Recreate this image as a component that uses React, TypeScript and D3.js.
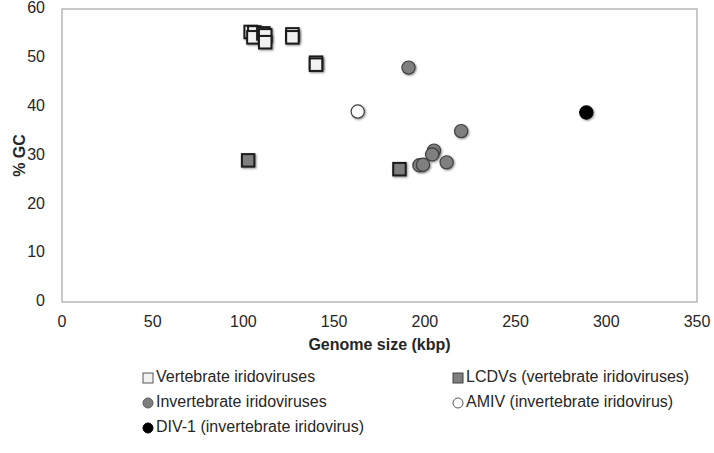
import { useRef, useEffect } from 'react';
import * as d3 from 'd3';

// [genome size kbp, %GC]
const vertebrate: [number, number][] = [
  [104, 55.3], [106, 55.2], [105.5, 54.2], [111, 55], [112, 54.6],
  [112, 53.2], [127, 54.8], [127, 54.2], [140, 49], [140, 48.6],
];
const lcdv: [number, number][] = [[102.6, 29], [186, 27.2]];
const invertebrate: [number, number][] = [
  [191, 48], [220, 35], [205, 31], [204, 30.2], [197, 28], [199, 28.1], [212, 28.6],
];
const amiv: [number, number][] = [[163, 39]];
const div1: [number, number][] = [[289, 38.8]];

const xTicks = [0, 50, 100, 150, 200, 250, 300, 350];
const yTicks = [0, 10, 20, 30, 40, 50, 60];

const legendItems = [
  { label: 'Vertebrate iridoviruses', shape: 'square', fill: '#f2f2f2' },
  { label: 'LCDVs (vertebrate iridoviruses)', shape: 'square', fill: '#7f7f7f' },
  { label: 'Invertebrate iridoviruses', shape: 'circle', fill: '#7f7f7f' },
  { label: 'AMIV (invertebrate iridovirus)', shape: 'circle', fill: '#ffffff' },
  { label: 'DIV-1 (invertebrate iridovirus)', shape: 'circle', fill: '#000000' },
];

const FONT = 'Liberation Sans, Arial, sans-serif';

export default function App() {
  const svgRef = useRef<SVGSVGElement>(null);

  useEffect(() => {
    if (!svgRef.current) return;
    const svg = d3.select(svgRef.current);
    svg.selectAll('*').remove();

    const margin = { top: 9, right: 17, bottom: 151, left: 62 };
    const W = 714;
    const H = 453;
    const width = W - margin.left - margin.right;
    const height = H - margin.top - margin.bottom;

    svg.attr('width', W).attr('height', H);

    const defs = svg.append('defs');
    const filter = defs.append('filter').attr('id', 'shadow').attr('x', '-50%').attr('y', '-50%').attr('width', '200%').attr('height', '200%');
    filter.append('feDropShadow').attr('dx', 1).attr('dy', 1).attr('stdDeviation', 0.8).attr('flood-color', '#000').attr('flood-opacity', 0.45);

    const g = svg.append('g').attr('transform', `translate(${margin.left},${margin.top})`);

    const x = d3.scaleLinear().domain([0, 350]).range([0, width]);
    const y = d3.scaleLinear().domain([0, 60]).range([height, 0]);

    // Plot frame
    g.append('rect')
      .attr('x', 0)
      .attr('y', 0)
      .attr('width', width)
      .attr('height', height)
      .attr('fill', 'none')
      .attr('stroke', '#a6a6a6')
      .attr('stroke-width', 1.2);

    // Tick labels
    g.selectAll('.xt')
      .data(xTicks)
      .join('text')
      .attr('x', (d) => x(d))
      .attr('y', height + 21)
      .attr('dominant-baseline', 'middle')
      .attr('text-anchor', 'middle')
      .attr('font-family', FONT)
      .attr('font-size', '16px')
      .attr('fill', '#262626')
      .text((d) => d);

    g.selectAll('.yt')
      .data(yTicks)
      .join('text')
      .attr('x', -17)
      .attr('y', (d) => y(d))
      .attr('dominant-baseline', 'middle')
      .attr('text-anchor', 'end')
      .attr('font-family', FONT)
      .attr('font-size', '16px')
      .attr('fill', '#262626')
      .text((d) => d);

    // Axis titles
    g.append('text')
      .attr('x', width / 2)
      .attr('y', height + 44)
      .attr('dominant-baseline', 'middle')
      .attr('text-anchor', 'middle')
      .attr('font-family', FONT)
      .attr('font-size', '16px')
      .attr('font-weight', 'bold')
      .attr('fill', '#262626')
      .text('Genome size (kbp)');

    g.append('text')
      .attr('transform', 'rotate(-90)')
      .attr('x', -height / 2)
      .attr('y', -41)
      .attr('dominant-baseline', 'middle')
      .attr('text-anchor', 'middle')
      .attr('font-family', FONT)
      .attr('font-size', '16px')
      .attr('font-weight', 'bold')
      .attr('fill', '#262626')
      .text('% GC');

    const s = 12.5;
    const drawSquares = (data: [number, number][], fill: string) => {
      g.append('g')
        .selectAll('rect')
        .data(data)
        .join('rect')
        .attr('x', (d) => x(d[0]) - s / 2)
        .attr('y', (d) => y(d[1]) - s / 2)
        .attr('width', s)
        .attr('height', s)
        .attr('fill', fill)
        .attr('stroke', '#1a1a1a')
        .attr('stroke-width', 2)
        .attr('filter', 'url(#shadow)');
    };
    const drawCircles = (data: [number, number][], fill: string, stroke: string) => {
      g.append('g')
        .selectAll('circle')
        .data(data)
        .join('circle')
        .attr('cx', (d) => x(d[0]))
        .attr('cy', (d) => y(d[1]))
        .attr('r', 6.6)
        .attr('fill', fill)
        .attr('stroke', stroke)
        .attr('stroke-width', 1.2)
        .attr('filter', 'url(#shadow)');
    };

    drawSquares(vertebrate, '#f2f2f2');
    drawSquares(lcdv, '#7f7f7f');
    drawCircles(invertebrate, '#7f7f7f', '#404040');
    drawCircles(amiv, '#ffffff', '#404040');
    drawCircles(div1, '#000000', '#000000');

    // Legend
    const legend = svg.append('g');
    const colX = [148, 458];
    const rowY = [378, 403, 428];
    legendItems.forEach((item, i) => {
      const lx = colX[i % 2];
      const ly = rowY[Math.floor(i / 2)];
      if (item.shape === 'square') {
        legend.append('rect')
          .attr('x', lx - 5)
          .attr('y', ly - 5)
          .attr('width', 10)
          .attr('height', 10)
          .attr('fill', item.fill)
          .attr('stroke', item.fill === '#f2f2f2' ? '#595959' : '#404040')
          .attr('stroke-width', 1);
      } else {
        legend.append('circle')
          .attr('cx', lx)
          .attr('cy', ly)
          .attr('r', 5)
          .attr('fill', item.fill)
          .attr('stroke', item.fill === '#000000' ? '#000' : '#595959')
          .attr('stroke-width', 1);
      }
      legend.append('text')
        .attr('x', lx + 8)
        .attr('y', ly)
        .attr('dominant-baseline', 'middle')
        .attr('font-family', FONT)
        .attr('font-size', '16px')
        .attr('fill', '#262626')
        .text(item.label);
    });
  }, []);

  return (
    <div style={{ position: 'absolute', left: 0, top: 0 }}>
      <svg ref={svgRef} />
    </div>
  );
}
